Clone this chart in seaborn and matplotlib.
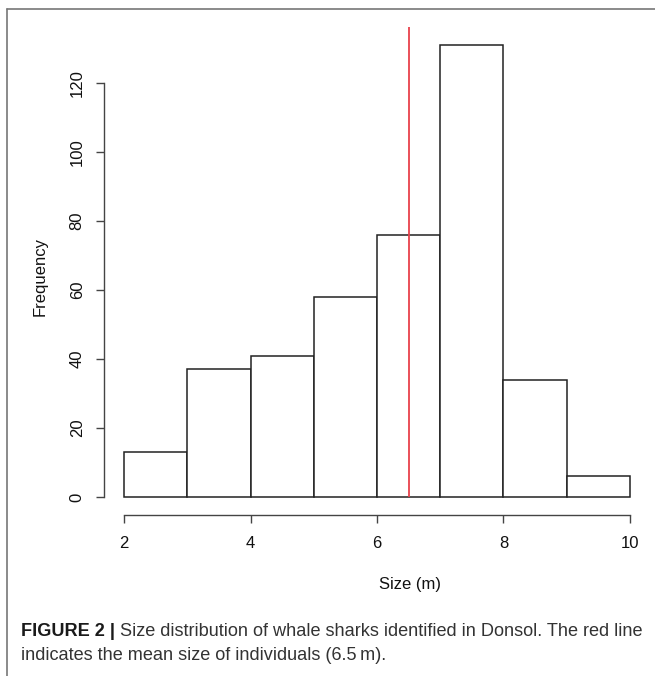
import numpy as np
import pandas as pd
import matplotlib
matplotlib.use("Agg")
import matplotlib.pyplot as plt
import seaborn as sns
from matplotlib.lines import Line2D

# Data
bin_edges = [2, 3, 4, 5, 6, 7, 8, 9, 10]
counts = [13, 37, 41, 58, 76, 131, 34, 6]
mean_size = 6.5
x_ticks = [2, 4, 6, 8, 10]
y_ticks = [0, 20, 40, 60, 80, 100, 120]

sns.set_theme(style="white")
plt.rcParams["font.family"] = ["Liberation Sans", "DejaVu Sans"]

W, H = 655, 676
fig = plt.figure(figsize=(W / 100, H / 100), dpi=100)

# axes placement (pixel based)
x0, x1 = 103.8, 650.2
y_top, y_bot = 26.6, 515.2
ax = fig.add_axes([x0 / W, 1 - y_bot / H, (x1 - x0) / W, (y_bot - y_top) / H])

centers = [(a + b) / 2 for a, b in zip(bin_edges[:-1], bin_edges[1:])]
df = pd.DataFrame({"size": centers, "n": counts})
sns.histplot(data=df, x="size", weights="n", bins=bin_edges, ax=ax,
             color="white", edgecolor="#222222", linewidth=1.1, alpha=1)

ymax = max(counts)
ax.set_xlim(2 - 0.04 * 8, 10 + 0.04 * 8)
ax.set_ylim(-0.04 * ymax, ymax * 1.04)
ax.vlines(mean_size, 0, ymax * 1.04, color="#e8414b", linewidth=1.3, zorder=5)

for s in ["top", "right"]:
    ax.spines[s].set_visible(False)
for s in ["left", "bottom"]:
    ax.spines[s].set_color("#444444")
    ax.spines[s].set_linewidth(1.0)
ax.spines["bottom"].set_bounds(x_ticks[0], x_ticks[-1])
ax.spines["left"].set_bounds(y_ticks[0], y_ticks[-1])

ax.set_xticks(x_ticks)
ax.set_yticks(y_ticks)
ax.set_xticklabels([str(v) for v in x_ticks])
ax.set_yticklabels([str(v) for v in y_ticks], rotation=90, va="center")
ax.tick_params(axis="both", which="both", length=5.8, width=1.0, color="#444444",
               labelsize=12, labelcolor="#111111", direction="out",
               bottom=True, left=True)
ax.tick_params(axis="x", pad=9.5)
ax.tick_params(axis="y", pad=8)
ax.set_xlabel("")
ax.set_ylabel("")
ax.grid(False)

fig.text(410 / W, 1 - 584 / H, "Size (m)", ha="center", va="center",
         fontsize=12, color="#111111")
fig.text(40 / W, 1 - 277 / H, "Frequency", ha="center", va="center",
         rotation=90, fontsize=12, color="#111111")

# Frame lines
fig.add_artist(Line2D([7 / W, 7 / W], [0, 1 - 9 / H], color="#777777", lw=1.2))
fig.add_artist(Line2D([7 / W, 1], [1 - 9 / H, 1 - 9 / H], color="#777777", lw=1.2))

# Caption
cap_size = 13.1
t1 = fig.text(21 / W, 1 - 631 / H, "FIGURE 2 |", ha="left", va="center",
              fontsize=cap_size, fontweight="bold", color="#1a1a1a")
fig.canvas.draw()
bb = t1.get_window_extent()
fig.text((bb.x1 + 5) / W, 1 - 631 / H,
         "Size distribution of whale sharks identified in Donsol. The red line",
         ha="left", va="center", fontsize=cap_size, color="#333333")
fig.text(21 / W, 1 - 656 / H, "indicates the mean size of individuals (6.5\u2009m).",
         ha="left", va="center", fontsize=cap_size, color="#333333")

fig.savefig("out.png", dpi=100, facecolor="white")
